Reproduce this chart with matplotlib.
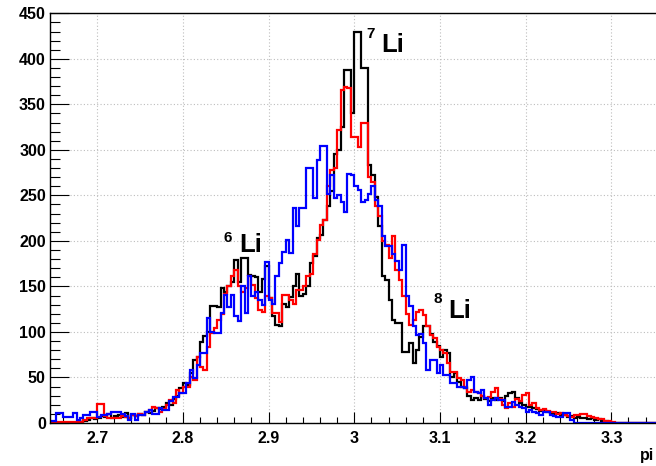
import numpy as np
import matplotlib
matplotlib.use('Agg')
import matplotlib.pyplot as plt
from matplotlib.ticker import MultipleLocator

plt.rcParams['font.family'] = ['Liberation Sans', 'DejaVu Sans']
plt.rcParams['font.weight'] = 'bold'

# histogram binning (pi variable)
bin_start = 2.644
bin_width = 0.004

black_counts = [
    0, 0, 0, 0, 0, 0, 0, 0, 0, 1,
    2, 3, 5, 4, 6, 8, 7, 10, 6, 8,
    9, 7, 11, 6, 9, 8, 10, 9, 12, 11,
    13, 16, 15, 18, 22, 20, 26, 30, 38, 44,
    42, 55, 69, 72, 89, 96, 100, 128, 128, 127,
    148, 144, 150, 155, 179, 155, 181, 181, 163, 162,
    160, 144, 158, 172, 137, 117, 108, 106, 131, 127,
    138, 150, 164, 140, 142, 150, 176, 183, 203, 206,
    223, 238, 255, 296, 300, 325, 388, 388, 340, 430,
    430, 390, 390, 283, 272, 248, 216, 161, 157, 135,
    113, 110, 110, 78, 78, 88, 66, 80, 95, 106,
    106, 98, 89, 85, 73, 80, 77, 51, 55, 45,
    40, 38, 30, 25, 28, 25, 30, 26, 24, 28,
    25, 27, 24, 30, 33, 34, 28, 22, 20, 18,
    18, 16, 15, 13, 14, 12, 11, 10, 11, 9,
    9, 7, 8, 6, 7, 5, 6, 4, 5, 3,
    4, 2, 2, 1, 0, 0, 0, 0, 0, 0,
    0, 0, 0, 0, 0, 0, 0, 0, 0, 0,
]

red_counts = [
    0, 1, 1, 1, 1, 1, 1, 1, 1, 1,
    3, 5, 5, 6, 21, 21, 8, 6, 5, 5,
    6, 8, 7, 5, 9, 8, 10, 9, 12, 14,
    18, 16, 12, 15, 20, 25, 22, 36, 33, 40,
    40, 51, 47, 73, 62, 58, 84, 99, 104, 113,
    120, 142, 150, 162, 168, 150, 144, 148, 161, 152,
    137, 124, 122, 139, 137, 121, 121, 111, 141, 141,
    135, 131, 146, 146, 150, 161, 164, 186, 201, 217,
    223, 260, 278, 280, 322, 366, 369, 368, 314, 314,
    303, 329, 330, 270, 265, 238, 227, 200, 195, 181,
    205, 168, 157, 139, 120, 108, 113, 122, 124, 119,
    106, 97, 93, 84, 80, 77, 66, 56, 56, 49,
    47, 40, 34, 36, 34, 33, 30, 27, 29, 34,
    38, 26, 20, 17, 22, 18, 26, 24, 31, 33,
    20, 22, 16, 14, 15, 13, 12, 12, 10, 11,
    9, 8, 7, 9, 9, 10, 10, 8, 7, 5,
    4, 4, 2, 2, 1, 0, 0, 0, 0, 0,
    0, 0, 0, 0, 0, 0, 0, 0, 0, 0,
]

blue_counts = [
    2, 2, 11, 11, 7, 7, 7, 11, 3, 5,
    9, 9, 12, 12, 7, 9, 9, 10, 12, 12,
    12, 10, 8, 3, 10, 3, 9, 9, 12, 14,
    10, 10, 16, 14, 14, 24, 29, 29, 33, 33,
    44, 58, 49, 64, 77, 77, 115, 100, 99, 99,
    121, 141, 127, 141, 117, 112, 150, 121, 161, 139,
    144, 135, 130, 177, 135, 131, 161, 176, 188, 201,
    187, 236, 216, 236, 236, 280, 280, 247, 289, 304,
    304, 252, 272, 247, 250, 243, 232, 274, 272, 260,
    256, 243, 245, 251, 260, 245, 238, 205, 194, 194,
    186, 178, 168, 195, 139, 128, 106, 97, 98, 88,
    58, 69, 69, 55, 64, 53, 53, 44, 44, 40,
    40, 38, 47, 51, 34, 33, 36, 27, 20, 25,
    27, 25, 25, 18, 18, 23, 20, 18, 16, 12,
    14, 12, 11, 9, 12, 12, 9, 8, 7, 7,
    11, 11, 3, 0, 0, 0, 0, 0, 0, 0,
    0, 0, 0, 0, 0, 0, 0, 0, 0, 0,
    0, 0, 0, 0, 0, 0, 0, 0, 0, 0,
]

# isotope labels: (mass number, x of number, y of number, x of "Li", y of "Li")
isotopes = [
    ('6', 2.848, 196, 2.866, 188),
    ('7', 3.014, 420, 3.032, 407),
    ('8', 3.092, 128, 3.110, 115),
]

xmin, xmax = 2.645, 3.36
ymin, ymax = 0, 450

fig = plt.figure(figsize=(6.56, 4.66), dpi=100)
W, H = 656, 466
ax_left, ax_bottom, ax_top = 50, 423, 13.3
ax_w = (xmax - xmin) / 0.1 * 85.7
ax = fig.add_axes([ax_left / W, 1 - ax_bottom / H, ax_w / W, (ax_bottom - ax_top) / H])

edges = bin_start + bin_width * np.arange(len(black_counts) + 1)
ax.stairs(black_counts, edges, color='black', linewidth=1.6)
ax.stairs(red_counts, edges, color='#ff0000', linewidth=1.6)
ax.stairs(blue_counts, edges, color='#0000ff', linewidth=1.6)

ax.set_xlim(xmin, xmax)
ax.set_ylim(ymin, ymax)

ax.xaxis.set_major_locator(MultipleLocator(0.1))
ax.xaxis.set_minor_locator(MultipleLocator(0.02))
ax.yaxis.set_major_locator(MultipleLocator(50))
ax.yaxis.set_minor_locator(MultipleLocator(10))
ax.xaxis.set_major_formatter(plt.FuncFormatter(lambda v, p: ('%g' % round(v, 2))))

ax.grid(True, which='major', color='#bdbdbd', linestyle=(0, (1, 2)), linewidth=0.8)
ax.set_axisbelow(True)

ax.tick_params(axis='x', which='major', direction='in', length=8, width=0.8,
               labelsize=11.5, pad=6)
ax.tick_params(axis='x', which='minor', direction='in', length=4.3, width=0.8)
ax.tick_params(axis='y', which='major', direction='in', length=13.5, width=0.8,
               labelsize=11.5, pad=3)
ax.tick_params(axis='y', which='minor', direction='in', length=7, width=0.8)
for lab in ax.get_xticklabels() + ax.get_yticklabels():
    lab.set_fontweight('bold')

for s in ax.spines.values():
    s.set_linewidth(1.0)

for num, xn, yn, xl, yl in isotopes:
    ax.text(xn, yn, num, fontsize=11, fontweight='bold', ha='left', va='bottom')
    ax.text(xl, yl, 'Li', fontsize=18.5, fontweight='bold', ha='left', va='baseline')

fig.text(640 / W, 1 - 463 / H, 'pi', fontsize=11.5, fontweight='bold', ha='left', va='bottom')

fig.savefig('out.png', dpi=100)
